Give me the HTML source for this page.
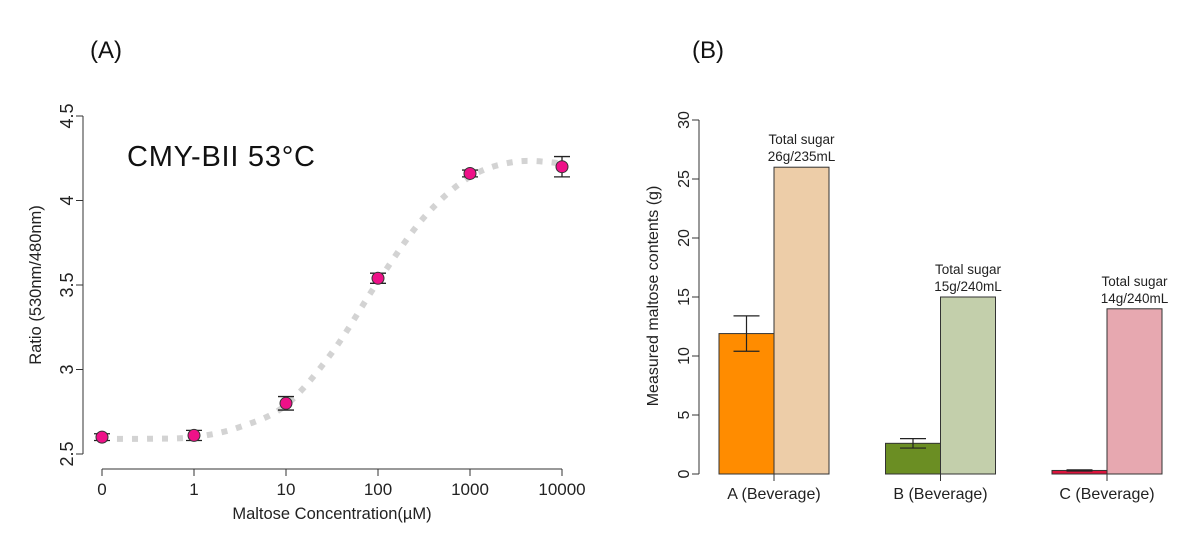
<!DOCTYPE html>
<html><head><meta charset="utf-8"><style>
body{margin:0;background:#fff;}
svg{display:block;font-family:"Liberation Sans",sans-serif;}
</style></head><body>
<svg id="fig" width="1200" height="540" viewBox="0 0 1200 540" xmlns="http://www.w3.org/2000/svg">
<text x="90" y="58" font-size="24" fill="#111">(A)</text>
<text x="692" y="58" font-size="24" fill="#111">(B)</text>
<g id="left"></g>
<g id="right"></g>
</svg>
<script>
// ---- Panel A data ----
const xLabels = ["0","1","10","100","1000","10000"];
const pointValues = [2.60, 2.61, 2.80, 3.54, 4.16, 4.20];
const pointErrors = [0.02, 0.03, 0.04, 0.03, 0.02, 0.06];
const curvePositions = [0,0.5,1,1.5,2,2.5,3,3.5,4,4.5,5];
const curveValues = [2.59,2.59,2.60,2.66,2.79,3.10,3.52,3.90,4.14,4.23,4.22];
const yTicksA = [2.5,3,3.5,4,4.5];
const yTickLabelsA = ["2.5","3","3.5","4","4.5"];
// ---- Panel B data ----
const categories = ["A (Beverage)","B (Beverage)","C (Beverage)"];
const maltoseValues = [11.9, 2.6, 0.3];
const maltoseErrors = [1.5, 0.4, 0.05];
const totalSugarValues = [26, 15, 14];
const totalSugarLabels = ["26g/235mL","15g/240mL","14g/240mL"];
const yTicksB = [0,5,10,15,20,25,30];

const NS="http://www.w3.org/2000/svg";
function mk(parent,tag,attrs,text){const e=document.createElementNS(NS,tag);for(const k in attrs)e.setAttribute(k,attrs[k]);if(text!==undefined)e.textContent=text;parent.appendChild(e);return e;}

// Panel A
const L=document.getElementById('left');
const xA=i=>102+i*92;
const yA=v=>454-(v-2.5)*169;
let el;
el=mk(L,'line',{x1:83,y1:yA(2.5),x2:83,y2:yA(4.5),stroke:'#333'});


yTicksA.forEach((t,i)=>{
  el=mk(L,'line',{x1:76,y1:yA(t),x2:83,y2:yA(t),stroke:'#333'});
  
  
  el=mk(L,'text',{x:0,y:0,transform:`translate(73,${yA(t)}) rotate(-90)`,'font-size':18,'text-anchor':'middle',fill:'#222'},yTickLabelsA[i]);
  
  
});
el=mk(L,'line',{x1:xA(0),y1:469,x2:xA(5),y2:469,stroke:'#333'});


xLabels.forEach((t,i)=>{
  el=mk(L,'line',{x1:xA(i),y1:469,x2:xA(i),y2:476,stroke:'#333'});
  
  
  el=mk(L,'text',{x:xA(i),y:495,'font-size':17,'text-anchor':'middle',fill:'#222'},t);
  
  
});
el=mk(L,'text',{x:332,y:519,'font-size':16.5,'text-anchor':'middle',fill:'#222'},"Maltose Concentration(\u00b5M)");


el=mk(L,'text',{x:0,y:0,transform:'translate(41,285) rotate(-90)','font-size':16.5,'text-anchor':'middle',fill:'#222'},"Ratio (530nm/480nm)");


el=mk(L,'text',{x:127,y:166,'font-size':29,fill:'#111',textLength:188},"CMY-BII 53\u00b0C");


// curve (catmull-rom)
const pts=curvePositions.map((p,i)=>[xA(p),yA(curveValues[i])]);
let d=`M${pts[0][0]},${pts[0][1]}`;
for(let i=0;i<pts.length-1;i++){
  const p0=pts[Math.max(0,i-1)],p1=pts[i],p2=pts[i+1],p3=pts[Math.min(pts.length-1,i+2)];
  d+=` C${p1[0]+(p2[0]-p0[0])/6},${p1[1]+(p2[1]-p0[1])/6} ${p2[0]-(p3[0]-p1[0])/6},${p2[1]-(p3[1]-p1[1])/6} ${p2[0]},${p2[1]}`;
}
el=mk(L,'path',{d:d,fill:'none',stroke:'#d3d3d3','stroke-width':6,'stroke-dasharray':'6 9'});


pointValues.forEach((v,i)=>{
  const x=xA(i),e=pointErrors[i];
  el=mk(L,'path',{d:`M${x},${yA(v-e)}V${yA(v+e)}M${x-8},${yA(v-e)}H${x+8}M${x-8},${yA(v+e)}H${x+8}`,stroke:'#222','stroke-width':1.3,fill:'none'});
  
  
  el=mk(L,'circle',{cx:x,cy:yA(v),r:6,fill:'#ee1188',stroke:'#333','stroke-width':1});
  
  
});

// Panel B
const R=document.getElementById('right');
const yB=v=>474-v*11.8;
const cx=i=>774+i*166.5;
const bw=55;
const darkC=['#ff8c00','#6b8e23','#dc143c'];
const lightC=['#edcda8','#c3cfab','#e7a8b0'];
el=mk(R,'line',{x1:699,y1:yB(0),x2:699,y2:yB(30),stroke:'#333'});


yTicksB.forEach(t=>{
  el=mk(R,'line',{x1:692,y1:yB(t),x2:699,y2:yB(t),stroke:'#333'});
  
  
  el=mk(R,'text',{x:0,y:0,transform:`translate(689,${yB(t)}) rotate(-90)`,'font-size':16,'text-anchor':'middle',fill:'#222'},String(t));
  
  
});
el=mk(R,'text',{x:0,y:0,transform:'translate(658,296) rotate(-90)','font-size':16,'text-anchor':'middle',fill:'#222'},"Measured maltose contents (g)");


categories.forEach((c,i)=>{
  const x=cx(i);
  el=mk(R,'rect',{x:x-bw,y:yB(maltoseValues[i]),width:bw,height:yB(0)-yB(maltoseValues[i]),fill:darkC[i],stroke:'#333','stroke-width':1});
  
  
  el=mk(R,'rect',{x:x,y:yB(totalSugarValues[i]),width:bw,height:yB(0)-yB(totalSugarValues[i]),fill:lightC[i],stroke:'#333','stroke-width':1});
  
  
  const ex=x-bw/2,v=maltoseValues[i],e=maltoseErrors[i];
  el=mk(R,'path',{d:`M${ex},${yB(v-e)}V${yB(v+e)}M${ex-13},${yB(v-e)}H${ex+13}M${ex-13},${yB(v+e)}H${ex+13}`,stroke:'#222','stroke-width':1.2,fill:'none'});
  
  
  el=mk(R,'line',{x1:x,y1:474,x2:x,y2:481,stroke:'#333'});
  
  
  el=mk(R,'text',{x:x,y:499,'font-size':16,'text-anchor':'middle',fill:'#222'},c);
  
  
  const lx=x+bw/2,ly=yB(totalSugarValues[i]);
  el=mk(R,'text',{x:lx,y:ly-23,'font-size':13.5,'text-anchor':'middle',fill:'#222'},"Total sugar");
  
  
  el=mk(R,'text',{x:lx,y:ly-6,'font-size':13.5,'text-anchor':'middle',fill:'#222'},totalSugarLabels[i]);
  
  
});
</script>
</body></html>
